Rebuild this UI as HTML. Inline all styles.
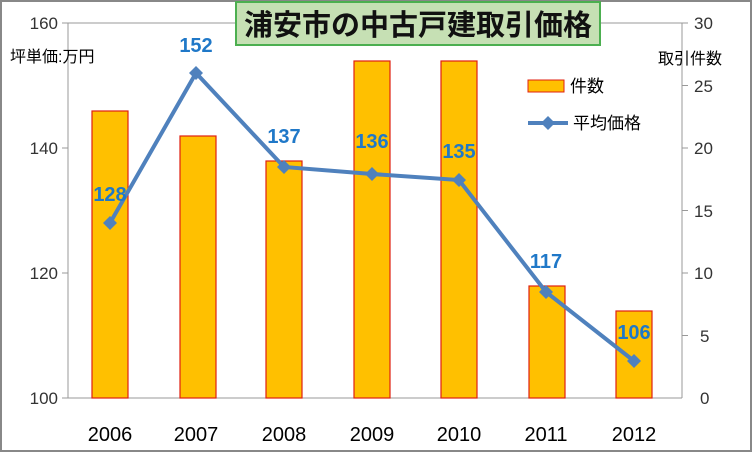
<!DOCTYPE html>
<html><head><meta charset="utf-8"><style>
body{margin:0;background:#fff}
svg{display:block;font-family:"Liberation Sans","Noto Sans CJK JP",sans-serif}
</style></head><body>
<svg width="752" height="452" viewBox="0 0 752 452">
<rect x="1" y="1" width="750" height="450" fill="#fff" stroke="#888" stroke-width="2"/>
<line x1="68" y1="23" x2="682" y2="23" stroke="#999" stroke-width="1"/>
<line x1="68" y1="23" x2="68" y2="398" stroke="#999"/>
<line x1="682" y1="23" x2="682" y2="398" stroke="#999"/>
<line x1="68" y1="398" x2="682" y2="398" stroke="#999"/>
<g stroke="#999">
<line x1="62" y1="23" x2="68" y2="23"/><line x1="62" y1="148" x2="68" y2="148"/><line x1="62" y1="273" x2="68" y2="273"/><line x1="62" y1="398" x2="68" y2="398"/>
<line x1="682" y1="23" x2="688" y2="23"/><line x1="682" y1="85.5" x2="688" y2="85.5"/><line x1="682" y1="148" x2="688" y2="148"/><line x1="682" y1="210.5" x2="688" y2="210.5"/><line x1="682" y1="273" x2="688" y2="273"/><line x1="682" y1="335.5" x2="688" y2="335.5"/>
</g>
<g font-size="17" fill="#333" text-anchor="end">
<text x="58" y="29">160</text><text x="58" y="154">140</text><text x="58" y="279">120</text><text x="58" y="404">100</text>
</g>
<g font-size="17" fill="#333" text-anchor="start">
<text x="694" y="29">30</text><text x="694" y="92">25</text><text x="694" y="154">20</text><text x="694" y="217">15</text><text x="694" y="279">10</text><text x="700" y="342">5</text><text x="700" y="404">0</text>
</g>
<text x="10" y="62" font-size="16" fill="#000">坪単価:万円</text>
<text x="658" y="64" font-size="16" fill="#000">取引件数</text>
<g fill="#ffc000" stroke="#e02010" stroke-width="1.2">
<rect x="92" y="111" width="36" height="287"/>
<rect x="180" y="136" width="36" height="262"/>
<rect x="266" y="161" width="36" height="237"/>
<rect x="354" y="61" width="36" height="337"/>
<rect x="441" y="61" width="36" height="337"/>
<rect x="529" y="286" width="36" height="112"/>
<rect x="616" y="311" width="36" height="87"/>
</g>
<polyline points="110,223 196,73 284,167 372,174 459,180 546,292 634,361" fill="none" stroke="#4f81bd" stroke-width="4"/>
<g fill="#4f81bd">
<path d="M110 216 l7 7 -7 7 -7 -7z"/><path d="M196 66 l7 7 -7 7 -7 -7z"/><path d="M284 160 l7 7 -7 7 -7 -7z"/><path d="M372 167 l7 7 -7 7 -7 -7z"/><path d="M459 173 l7 7 -7 7 -7 -7z"/><path d="M546 285 l7 7 -7 7 -7 -7z"/><path d="M634 354 l7 7 -7 7 -7 -7z"/>
</g>
<g font-size="20" font-weight="bold" fill="#1f78c8" text-anchor="middle">
<text x="110" y="201">128</text><text x="196" y="52">152</text><text x="284" y="143">137</text><text x="372" y="148">136</text><text x="459" y="158">135</text><text x="546" y="268">117</text><text x="634" y="339">106</text>
</g>
<g font-size="20" fill="#000" text-anchor="middle">
<text x="110" y="441">2006</text><text x="196" y="441">2007</text><text x="284" y="441">2008</text><text x="372" y="441">2009</text><text x="459" y="441">2010</text><text x="546" y="441">2011</text><text x="634" y="441">2012</text>
</g>
<rect x="528" y="80" width="36" height="12" fill="#ffc000" stroke="#e02010"/>
<text x="570" y="92" font-size="17" fill="#000">件数</text>
<line x1="528" y1="123" x2="568" y2="123" stroke="#4f81bd" stroke-width="4"/>
<path d="M548 116 l7 7 -7 7 -7 -7z" fill="#4f81bd"/>
<text x="573" y="129" font-size="17" fill="#000">平均価格</text>
<rect x="236" y="2" width="364" height="43" fill="#c6e0b4" stroke="#4caf50" stroke-width="2"/>
<text x="418" y="35" font-size="29" font-weight="bold" fill="#111" text-anchor="middle">浦安市の中古戸建取引価格</text>
</svg>
</body></html>
